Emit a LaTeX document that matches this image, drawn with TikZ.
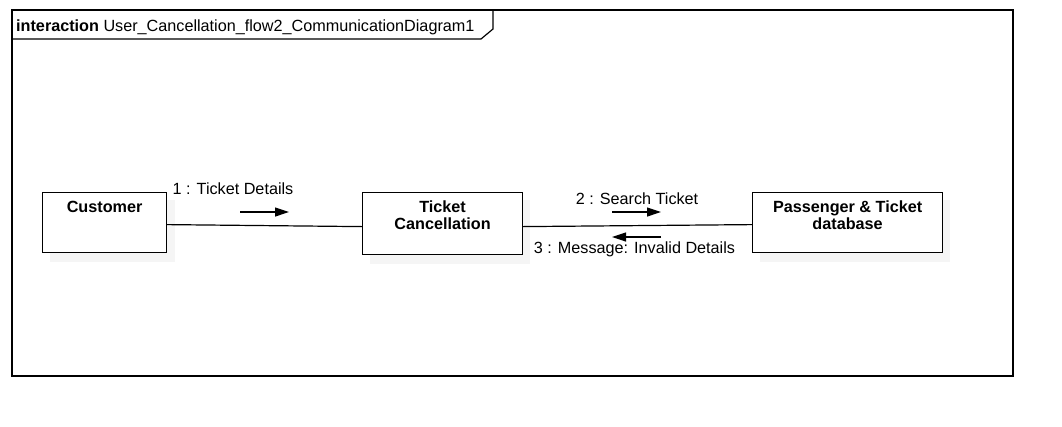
\documentclass[tikz,border=0pt]{standalone}
\usepackage{fontspec}
\setmainfont{Liberation Sans}
\usetikzlibrary{arrows.meta,positioning,calc}

\tikzset{
  obj/.style={draw, line width=1.2pt, fill=white, anchor=north west, inner sep=0pt},
  objshadow/.style={fill=black!4, draw=none},
  objname/.style={font=\fontsize{16.2}{16.5}\selectfont\bfseries, align=center, anchor=north, inner sep=0pt, yshift=-9pt},
  msg/.style={font=\fontsize{16.2}{16.5}\selectfont, anchor=base, inner sep=0pt},
  msgarrow/.style={line width=1.2pt, -{Triangle[length=14pt,width=9pt]}},
  link/.style={line width=1.2pt},
}

\begin{document}
\begin{tikzpicture}[x=1pt,y=-1pt]
			\useasboundingbox (0,0) rectangle (1062,426);
			
			% Frame with tab
			\draw[line width=1.2pt] (12,10) rectangle (1013,376);
			\draw[line width=1.2pt] (493,10) -- (493,29) -- (481,39) -- (12,39);
			\node[anchor=base west, inner sep=0pt, font=\fontsize{16.2}{16.5}\selectfont] (title) at (16,31)
				{\textbf{interaction} User\_Cancellation\_flow2\_CommunicationDiagram1};
			
			% Shadows
			\fill[objshadow] (50,200) rectangle (175,262);
			\fill[objshadow] (370,200) rectangle (530,264);
			\fill[objshadow] (760,200) rectangle (950,262);
			
			% Objects
			\node[obj, minimum width=124pt, minimum height=60pt] (cust) at (42,192) {};
			\node[objname] (custname) at (cust.north) {Customer};
			
			\node[obj, minimum width=160pt, minimum height=62pt] (cancel) at (362,192) {};
			\node[objname] (cancelname) at (cancel.north) {Ticket\\Cancellation};
			
			\node[obj, minimum width=190pt, minimum height=60pt] (db) at (752,192) {};
			\node[objname] (dbname) at (db.north) {Passenger \& Ticket\\database};
			
			% Links
			\draw[link] ($(cust.east)+(0,2)$) -- ($(cancel.west)+(0,3)$);
			\draw[link] ($(cancel.east)+(0,3)$) -- ($(db.west)+(0,2)$);
			
			% Message 1
			\coordinate (m1s) at (240,212);
			\coordinate (m1e) at (289,212);
			\draw[msgarrow] (m1s) -- (m1e);
			\node[msg] (m1) at (233,194) {1 : Ticket Details};
			
			% Message 2
			\coordinate (m2s) at (612,212);
			\coordinate (m2e) at (661,212);
			\draw[msgarrow] (m2s) -- (m2e);
			\node[msg] (m2) at (637,204) {2 : Search Ticket};
			
			% Message 3
			\coordinate (m3s) at (661,237);
			\coordinate (m3e) at (612,237);
			\draw[msgarrow] (m3s) -- (m3e);
			\node[msg] (m3) at (634.5,253) {3 : Message: Invalid Details};
		\end{tikzpicture}
\end{document}
